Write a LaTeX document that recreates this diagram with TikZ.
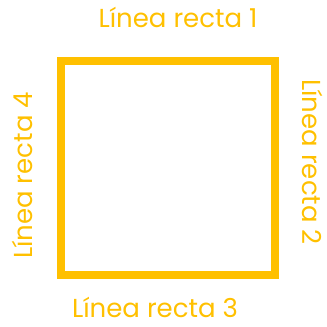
\documentclass[tikz,border=0pt]{standalone}
\usepackage{fontspec}
\setmainfont{Poppins}
\usetikzlibrary{positioning}

\definecolor{linegold}{HTML}{FFC000}

\begin{document}
\begin{tikzpicture}[x=1pt, y=1pt,
    side/.style={draw=linegold, line width=8pt, minimum size=214pt, inner sep=0pt, outer sep=0pt},
    tag/.style={text=linegold, font=\fontsize{26}{30}\selectfont, inner sep=0pt}]

    \useasboundingbox (0,0) rectangle (327,327);

    %% square
    \node[side] (sq) at (168,158.5) {};

    %% labels
    \node[tag, above=33.5pt of sq.north, xshift=10pt] (top) {Línea recta 1};
    \node[tag, below=21pt of sq.south, xshift=-13pt] (bottom) {Línea recta 3};
    \node[tag, left=28pt of sq.west, yshift=-7pt, rotate=90, anchor=south] (left) {Línea recta 4};
    \node[tag, right=27pt of sq.east, yshift=6.5pt, rotate=-90, anchor=south] (right) {Línea recta 2};
\end{tikzpicture}
\end{document}
